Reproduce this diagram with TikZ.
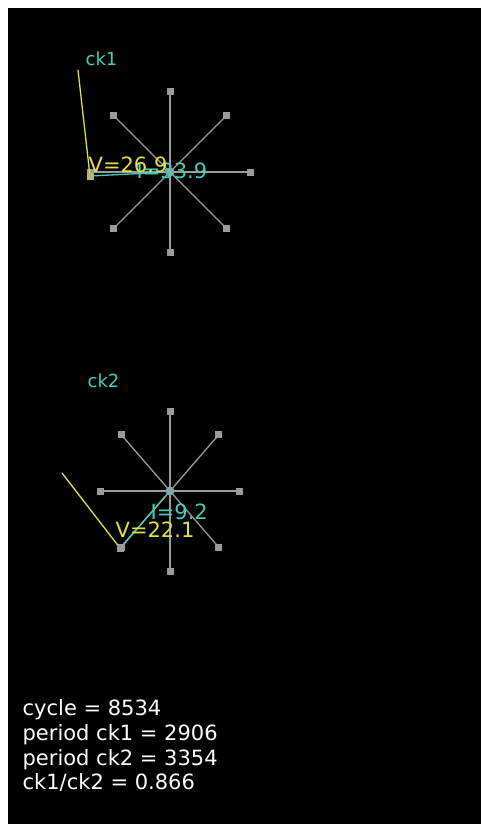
\documentclass[tikz,border=0pt]{standalone}
\usepackage{fontspec}
\setmainfont{DejaVu Sans}
\definecolor{tcyan}{RGB}{70,205,185}
\definecolor{tyellow}{RGB}{225,225,70}
\definecolor{tgray}{RGB}{155,155,155}
\tikzset{every picture/.style={line width=1.3pt}}
\tikzset{
  tip/.style={rectangle, fill=tgray, minimum size=7pt, inner sep=0pt},
  hub/.style={circle, fill=tgray!70!tcyan, minimum size=9pt, inner sep=0pt},
  lab/.style={anchor=base west, inner sep=0pt, font=\fontsize{21}{25}\selectfont},
  cklab/.style={lab, text=tcyan, font=\fontsize{18}{22}\selectfont}
}
\begin{document}
\begin{tikzpicture}[x=1pt, y=-1pt, line join=round, line cap=round]
\fill[white] (0,0) rectangle (481,824);
\fill[black] (8,8) rectangle (481,824);
\useasboundingbox (0,0) rectangle (481,824);
\path
(170,172) coordinate (O1)
(170,491) coordinate (O2)
(78,70) coordinate (A1)
(90,176) coordinate (B1)
(62,473) coordinate (A2)
(120,548) coordinate (B2);
% ck1 and ck2 phase stars
\foreach \a in {0,45,...,315}{
  \draw[tgray] (O1)--++(\a:80) node[tip]{};
  \draw[tgray] (O2)--++({0.866*80*cos(\a)},{80*sin(\a)}) node[tip]{};
}
\node[hub] (h1) at (O1) {};
\node[hub] (h2) at (O2) {};
% voltage and current vectors
\draw[tyellow] (A1)--(B1);
\draw[tcyan] (B1)--(h1);
\node[tip, fill=tgray!60!tyellow] (s1) at (B1) {};
\draw[tyellow] (A2)--(B2);
\draw[tcyan] (B2)--(h2);
\node[tip] (s2) at (B2) {};
\node[lab, text=tcyan] (i1) at (136,178) {I=33.9};
\node[lab, text=tyellow] (v1) at (88,172) {V=26.9};
\node[lab, text=tcyan] (i2) at (150,519) {I=9.2};
\node[lab, text=tyellow] (v2) at (115,537) {V=22.1};
\node[cklab] (c1) at (85,66) {ck1};
\node[cklab] (c2) at (87,387) {ck2};
% counters
\foreach \t/\yy in {{cycle = 8534}/715, {period ck1 = 2906}/740, {period ck2 = 3354}/765, {ck1/ck2 = 0.866}/789}
  \node[lab, text=white] at (22,\yy) {\t};
\end{tikzpicture}
\end{document}
